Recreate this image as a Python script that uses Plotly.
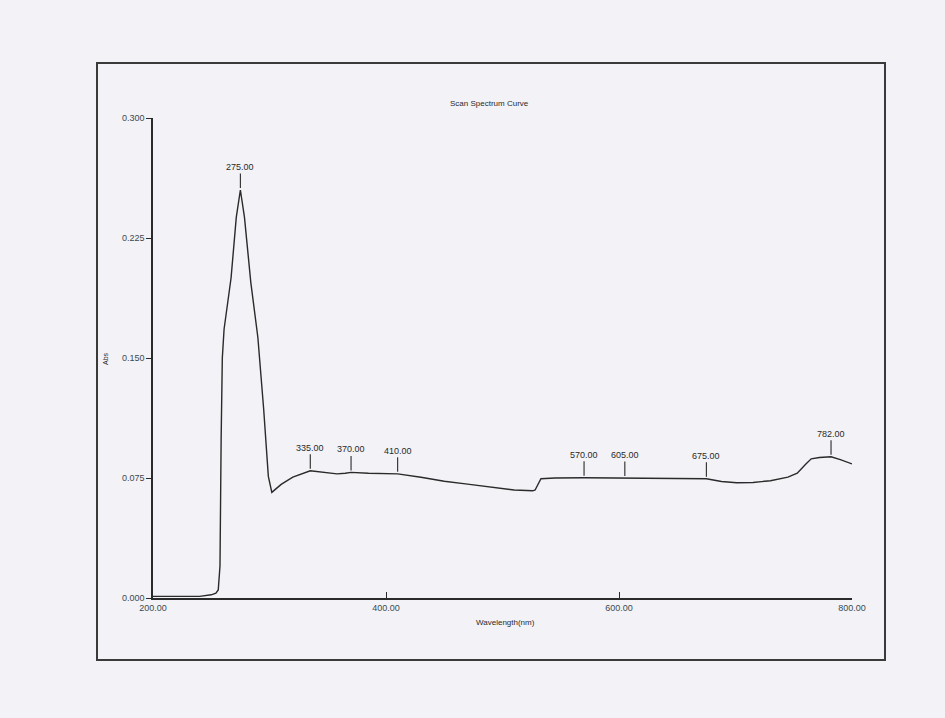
import numpy as np
import plotly.graph_objects as go

# Wavelength (nm) and absorbance
wavelength = [200, 220, 240, 250, 254, 256, 257.5, 258.5, 259.5, 261, 267, 271.5, 275,
              278.5, 284, 290, 295, 299, 302, 310, 320, 335, 345, 358, 365, 370,
              385, 400, 410, 430, 450, 470, 493, 510, 526, 528, 533, 545, 570,
              590, 605, 630, 655, 675, 688, 701, 715, 730, 745, 753, 760, 765,
              772, 782, 790, 800]
absorbance = [0.001, 0.001, 0.001, 0.002, 0.003, 0.005, 0.02, 0.10, 0.15, 0.168, 0.20, 0.238, 0.255,
              0.238, 0.197, 0.163, 0.118, 0.076, 0.066, 0.071, 0.0755, 0.0795, 0.0785, 0.0776, 0.078, 0.0785,
              0.078, 0.0778, 0.0776, 0.0755, 0.073, 0.0712, 0.069, 0.0675, 0.067, 0.0675, 0.0745, 0.075, 0.0752,
              0.075, 0.075, 0.0748, 0.0745, 0.0745, 0.0728, 0.072, 0.0722, 0.0733, 0.0755, 0.078, 0.0835, 0.087,
              0.0878, 0.0883, 0.0865, 0.0838]

peak_wavelengths = [275, 335, 370, 410, 570, 605, 675, 782]
x_tick_vals = [200, 400, 600, 800]
x_tick_text = ["200.00", "400.00", "600.00", "800.00"]
y_tick_vals = [0.0, 0.075, 0.15, 0.225, 0.3]
y_tick_text = ["0.000", "0.075", "0.150", "0.225", "0.300"]

title_text = "Scan Spectrum Curve"
x_title = "Wavelength(nm)"
y_title = "Abs"

FONT = "Liberation Sans, Arial, sans-serif"
INK = "#2a2a2a"
PAPER = "#f3f2f6"

fig = go.Figure()
fig.add_trace(go.Scatter(x=wavelength, y=absorbance, mode="lines",
                         line=dict(color=INK, width=1.4), hoverinfo="skip",
                         showlegend=False))

peak_y = np.interp(peak_wavelengths, wavelength, absorbance)
for px, py in zip(peak_wavelengths, peak_y):
    fig.add_annotation(x=px, y=py, xref="x", yref="y", text=f"{px:.2f}",
                       showarrow=True, arrowhead=0, arrowwidth=1.1, arrowcolor=INK,
                       ax=0, ay=-23, standoff=2,
                       font=dict(family=FONT, size=9, color=INK))

fig.add_annotation(x=0.482, y=1.031, xref="paper", yref="paper", text=title_text,
                   xanchor="center", yanchor="middle",
                   showarrow=False, font=dict(family=FONT, size=8, color=INK))
fig.add_annotation(x=0.5036, y=-0.052, xref="paper", yref="paper", text=x_title,
                   xanchor="center", yanchor="middle",
                   showarrow=False, font=dict(family=FONT, size=8, color=INK))
fig.add_annotation(x=-0.0687, y=0.5, xref="paper", yref="paper", text=y_title,
                   xanchor="center", yanchor="middle",
                   textangle=-90, showarrow=False, font=dict(family=FONT, size=7, color=INK))

# outer printed frame
fig.add_shape(type="rect", xref="paper", yref="paper",
              x0=-0.0801, x1=1.0472, y0=-0.1292, y1=1.1146,
              line=dict(color="#3a3a3a", width=2))

fig.update_xaxes(range=[200, 800], tickvals=x_tick_vals, ticktext=x_tick_text,
                 showline=True, linecolor=INK, linewidth=1.5, showgrid=False, zeroline=False,
                 ticks="inside", ticklen=6, tickcolor=INK,
                 tickfont=dict(family=FONT, size=9, color="#3a4a50"))
fig.update_yaxes(range=[0, 0.3], tickvals=y_tick_vals, ticktext=y_tick_text,
                 showline=True, linecolor=INK, linewidth=1.5, showgrid=False, zeroline=False,
                 ticks="outside", ticklen=5, tickcolor=INK,
                 tickfont=dict(family=FONT, size=9, color="#3a4a50"))

fig.update_layout(width=945, height=718,
                  margin=dict(l=153, r=93, t=118, b=120),
                  paper_bgcolor=PAPER, plot_bgcolor=PAPER)

fig.write_html("out.html",
               config={"displayModeBar": False},
               post_script="document.body.style.margin='0';"
                           "document.body.style.background='" + PAPER + "';")
